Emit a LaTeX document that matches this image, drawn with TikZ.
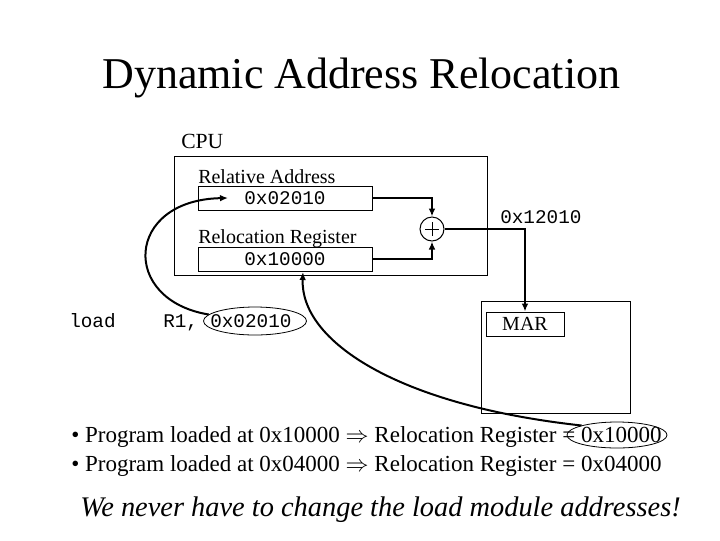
\documentclass[tikz,border=0pt]{standalone}
\usepackage{fontspec}
\setmainfont{Liberation Serif}
\setmonofont{Liberation Mono}
\usetikzlibrary{arrows.meta,shapes.geometric}
\begin{document}
\begin{tikzpicture}[x=0.75pt,y=-0.75pt,
  box/.style={draw, line width=0.75pt, inner sep=0pt},
  wire/.style={line width=1.8pt, -{Latex[length=6pt,width=5pt]}},
  curv/.style={line width=1.5pt, -{Latex[length=6pt,width=5pt]}},
  lbl/.style={anchor=base west, inner sep=0pt},
  mono/.style={font=\fontsize{14.5pt}{16pt}\ttfamily},
  oval/.style={draw, ellipse, line width=0.6pt, inner sep=0pt}]
\useasboundingbox[fill=white] (0,0) rectangle (720,540);

\node[lbl, font=\fontsize{33pt}{38pt}\selectfont] (title) at (102,88) {Dynamic Address Relocation};

\node[lbl, font=\fontsize{16.2pt}{19pt}\selectfont] (cpulbl) at (181,148) {CPU};
\node[box, minimum width=234.75pt, minimum height=89.25pt] (cpu) at (330.5,215.5) {};

\node[lbl, font=\fontsize{15pt}{18pt}\selectfont] (rellbl) at (198,183) {Relative Address};
\node[box, mono, minimum width=130.5pt, minimum height=18pt] (rel) at (285,198) {0x02010};
\node[lbl, font=\fontsize{15pt}{18pt}\selectfont] (reglbl) at (198,243) {Relocation Register};
\node[box, mono, minimum width=130.5pt, minimum height=18pt] (reg) at (285,259) {0x10000};

\node[draw, circle, line width=0.75pt, minimum size=18pt, inner sep=0pt] (add) at (432,229) {};
\draw[line width=0.6pt] (add.center) ++(-7,0) -- ++(14,0) (add.center) ++(0,-7) -- ++(0,14);

\node[lbl, mono] (sum) at (500,223) {0x12010};

\node[box, minimum width=111.75pt, minimum height=84pt] (mem) at (555.5,357) {};
\node[box, minimum width=58.5pt, minimum height=18pt, font=\fontsize{15pt}{18pt}\selectfont] (mar) at (525,324) {MAR};

\draw[wire] (rel.east) -| (add.north);
\draw[wire] (reg.east) -| (add.south);
\draw[wire] (add.east) -| (mar.north);

\node[lbl, mono] (load) at (69,327) {load};
\node[lbl, mono] (r1) at (163,327) {R1,};
\node[lbl, mono] (addr) at (210,327) {0x02010};
\node[oval, minimum width=77.25pt, minimum height=21pt] (ell1) at (255,321) {};

\node[lbl, font=\fontsize{17.25pt}{21pt}\selectfont] (b1) at (71,442) {• Program loaded at 0x10000 $\Rightarrow$ Relocation Register = 0x10000};
\node[lbl, font=\fontsize{17.25pt}{21pt}\selectfont] (b2) at (71,471) {• Program loaded at 0x04000 $\Rightarrow$ Relocation Register = 0x04000};
\node[oval, minimum width=75pt, minimum height=19.5pt] (ell2) at (617,435) {};

\node[lbl, font=\fontsize{21.3pt}{25pt}\itshape] (note) at (80,516) {We never have to change the load module addresses!};

\coordinate (t1) at (228,198);
\coordinate (t2) at (303,272);
\draw[curv] (ell1.172) .. controls (120,300) and (125,200) .. (t1);
\draw[curv] (ell2.165) .. controls (395,405) and (300,340) .. (t2);
\end{tikzpicture}
\end{document}
